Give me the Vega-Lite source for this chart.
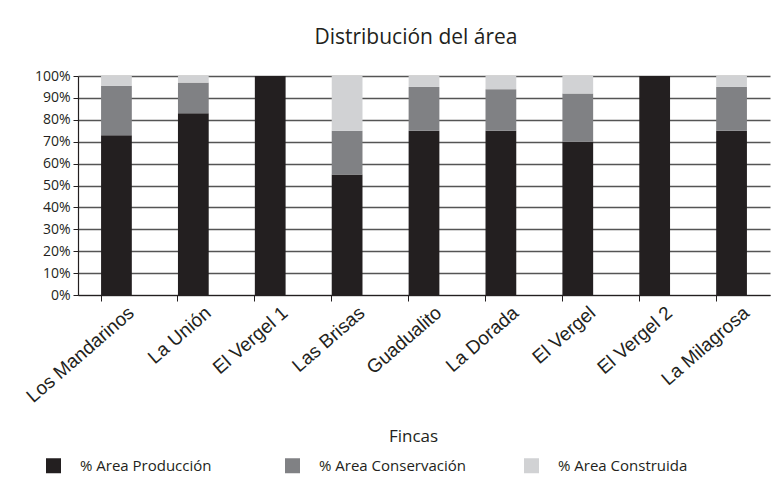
{
  "$schema": "https://vega.github.io/schema/vega-lite/v6.json",
  "autosize": "none",
  "width": 692,
  "height": 219,
  "padding": {"left": 78, "top": 76, "right": 5, "bottom": 190},
  "background": "white",
  "title": {"text": "Distribución del área", "font": "Open Sans", "fontSize": 21, "fontWeight": "normal", "color": "#231f20", "offset": 21, "dx": -8},
  "data": {"values": [
    {"finca": "Los Mandarinos", "tipo": "% Area Producción", "orden": 1, "valor": 0.73},
    {"finca": "Los Mandarinos", "tipo": "% Area Conservación", "orden": 2, "valor": 0.225},
    {"finca": "Los Mandarinos", "tipo": "% Area Construida", "orden": 3, "valor": 0.045},
    {"finca": "La Unión", "tipo": "% Area Producción", "orden": 1, "valor": 0.83},
    {"finca": "La Unión", "tipo": "% Area Conservación", "orden": 2, "valor": 0.14},
    {"finca": "La Unión", "tipo": "% Area Construida", "orden": 3, "valor": 0.03},
    {"finca": "El Vergel 1", "tipo": "% Area Producción", "orden": 1, "valor": 1.0},
    {"finca": "El Vergel 1", "tipo": "% Area Conservación", "orden": 2, "valor": 0},
    {"finca": "El Vergel 1", "tipo": "% Area Construida", "orden": 3, "valor": 0},
    {"finca": "Las Brisas", "tipo": "% Area Producción", "orden": 1, "valor": 0.55},
    {"finca": "Las Brisas", "tipo": "% Area Conservación", "orden": 2, "valor": 0.20},
    {"finca": "Las Brisas", "tipo": "% Area Construida", "orden": 3, "valor": 0.25},
    {"finca": "Guadualito", "tipo": "% Area Producción", "orden": 1, "valor": 0.75},
    {"finca": "Guadualito", "tipo": "% Area Conservación", "orden": 2, "valor": 0.20},
    {"finca": "Guadualito", "tipo": "% Area Construida", "orden": 3, "valor": 0.05},
    {"finca": "La Dorada", "tipo": "% Area Producción", "orden": 1, "valor": 0.75},
    {"finca": "La Dorada", "tipo": "% Area Conservación", "orden": 2, "valor": 0.19},
    {"finca": "La Dorada", "tipo": "% Area Construida", "orden": 3, "valor": 0.06},
    {"finca": "El Vergel", "tipo": "% Area Producción", "orden": 1, "valor": 0.70},
    {"finca": "El Vergel", "tipo": "% Area Conservación", "orden": 2, "valor": 0.22},
    {"finca": "El Vergel", "tipo": "% Area Construida", "orden": 3, "valor": 0.08},
    {"finca": "El Vergel 2", "tipo": "% Area Producción", "orden": 1, "valor": 1.0},
    {"finca": "El Vergel 2", "tipo": "% Area Conservación", "orden": 2, "valor": 0},
    {"finca": "El Vergel 2", "tipo": "% Area Construida", "orden": 3, "valor": 0},
    {"finca": "La Milagrosa", "tipo": "% Area Producción", "orden": 1, "valor": 0.75},
    {"finca": "La Milagrosa", "tipo": "% Area Conservación", "orden": 2, "valor": 0.20},
    {"finca": "La Milagrosa", "tipo": "% Area Construida", "orden": 3, "valor": 0.05}
  ]},
  "mark": {"type": "bar"},
  "encoding": {
    "x": {
      "field": "finca", "type": "nominal", "sort": null,
      "scale": {"paddingInner": 0.6, "paddingOuter": 0.3},
      "axis": {
        "title": "Fincas", "titleFont": "Open Sans", "titleFontSize": 17, "titleFontWeight": "normal", "titleColor": "#231f20", "titlePadding": 22, "titleX": 335,
        "labelAngle": -41, "labelFont": "Liberation Sans", "labelFontSize": 19, "labelColor": "#231f20", "labelPadding": 2, "labelOffset": 9,
        "bandPosition": 0, "tickColor": "#231f20", "tickSize": 6, "domainColor": "#231f20", "domainWidth": 1.2, "grid": false
      }
    },
    "y": {
      "field": "valor", "type": "quantitative", "stack": "zero",
      "scale": {"domain": [0, 1], "nice": false},
      "axis": {
        "title": null, "format": ".0%", "values": [0, 0.1, 0.2, 0.3, 0.4, 0.5, 0.6, 0.7, 0.8, 0.9, 1.0],
        "labelFont": "Open Sans", "labelFontSize": 14, "labelColor": "#231f20", "labelPadding": 3,
        "tickColor": "#231f20", "tickSize": 5, "domainColor": "#231f20", "domainWidth": 1.2,
        "grid": true, "gridColor": "#555555", "gridWidth": 1.4
      }
    },
    "color": {
      "field": "tipo", "type": "nominal",
      "sort": ["% Area Producción", "% Area Conservación", "% Area Construida"],
      "scale": {"domain": ["% Area Producción", "% Area Conservación", "% Area Construida"], "range": ["#231f20", "#808184", "#d1d2d4"]},
      "legend": {
        "title": null, "orient": "none", "legendX": -32, "legendY": 382, "direction": "horizontal",
        "symbolType": "square", "symbolSize": 225, "symbolStrokeWidth": 0, "symbolOpacity": 1,
        "labelFont": "Open Sans", "labelFontSize": 15, "labelColor": "#231f20", "labelOffset": 19, "labelLimit": 300,
        "gridAlign": "all", "columnPadding": 58
      }
    },
    "order": {"field": "orden", "type": "quantitative"}
  },
  "config": {"view": {"stroke": null}}
}
